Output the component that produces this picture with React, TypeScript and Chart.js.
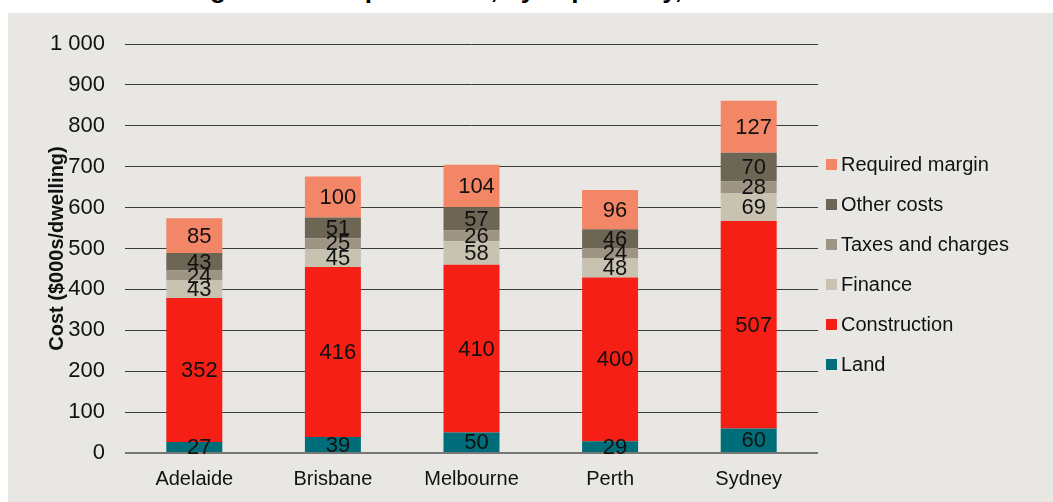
import React, { useEffect, useRef } from 'react';
import { Chart, registerables } from 'chart.js';

Chart.register(...registerables);

const titleText = 'Building costs for apartments, by capital city, 2016';
const yAxisTitle = 'Cost ($000s/dwelling)';
const categories = ['Adelaide', 'Brisbane', 'Melbourne', 'Perth', 'Sydney'];

const land = [27, 39, 50, 29, 60];
const construction = [352, 416, 410, 400, 507];
const finance = [43, 45, 58, 48, 69];
const taxesAndCharges = [24, 25, 26, 24, 28];
const otherCosts = [43, 51, 57, 46, 70];
const requiredMargin = [85, 100, 104, 96, 127];

const seriesNames = ['Land', 'Construction', 'Finance', 'Taxes and charges', 'Other costs', 'Required margin'];
const seriesValues = [land, construction, finance, taxesAndCharges, otherCosts, requiredMargin];
const seriesColors = ['#006e7a', '#f51f15', '#c8c2b0', '#9e9484', '#6e6654', '#f48668'];

const yMin = 0;
const yMax = 1000;
const yStep = 100;

const SANS = '"Liberation Sans", Arial, sans-serif';

const formatThousands = (v: number) => String(v).replace(/\B(?=(\d{3})+(?!\d))/g, ' ');

const valueLabels = {
  id: 'valueLabels',
  afterDatasetsDraw(chart: any) {
    const ctx = chart.ctx;
    ctx.save();
    ctx.font = `22px ${SANS}`;
    ctx.fillStyle = '#111111';
    ctx.textAlign = 'center';
    ctx.textBaseline = 'middle';
    chart.data.datasets.forEach((ds: any, i: number) => {
      const meta = chart.getDatasetMeta(i);
      meta.data.forEach((el: any, j: number) => {
        const { x, y, base } = el.getProps(['x', 'y', 'base'], true);
        ctx.fillText(String(ds.data[j]), x + 5, (y + base) / 2 + 1);
      });
    });
    ctx.restore();
  },
};

export default function App() {
  const canvasRef = useRef<HTMLCanvasElement | null>(null);

  useEffect(() => {
    if (!canvasRef.current) return;
    const chart = new Chart(canvasRef.current, {
      type: 'bar',
      data: {
        labels: categories,
        datasets: seriesNames.map((name, i) => ({
          label: name,
          data: seriesValues[i],
          backgroundColor: seriesColors[i],
          borderWidth: 0,
          categoryPercentage: 1,
          barPercentage: 0.404,
        })),
      },
      options: {
        responsive: false,
        animation: false,
        devicePixelRatio: 1,
        layout: { padding: { left: 0, right: 235, top: 31, bottom: 0 } },
        plugins: {
          legend: { display: false },
          tooltip: { enabled: false },
          title: { display: false },
        },
        scales: {
          x: {
            stacked: true,
            grid: { display: false, drawTicks: false },
            border: { display: false },
            ticks: {
              color: '#111111',
              padding: 14,
              font: { family: SANS, size: 20 },
            },
            afterFit: (scale: any) => {
              scale.height = 49;
            },
          },
          y: {
            stacked: true,
            min: yMin,
            max: yMax,
            border: { display: false },
            grid: {
              drawTicks: false,
              color: (c: any) => (c.tick && c.tick.value === 0 ? '#777777' : '#3a3a3a'),
              lineWidth: (c: any) => (c.tick && c.tick.value === 0 ? 2 : 1),
            },
            ticks: {
              stepSize: yStep,
              color: '#111111',
              padding: 20,
              font: { family: SANS, size: 22 },
              callback: (v: any) => formatThousands(Number(v)),
            },
            title: {
              display: true,
              text: yAxisTitle,
              color: '#111111',
              font: { family: SANS, size: 20, weight: 'bold' },
              padding: { top: 37, bottom: 0 },
            },
            afterFit: (scale: any) => {
              scale.width = 117;
              scale.paddingTop = 0;
              scale.paddingBottom = 0;
            },
          },
        },
      },
      plugins: [valueLabels],
    });
    return () => chart.destroy();
  }, []);

  const legendOrder = [...seriesNames.keys()].reverse();

  return (
    <div style={{ position: 'fixed', left: 0, top: 0, width: 1053, height: 502, overflow: 'hidden', background: '#ffffff' }}>
      <div
        style={{
          position: 'absolute',
          left: 122,
          top: -26,
          whiteSpace: 'nowrap',
          font: `bold 26px ${SANS}`,
          lineHeight: '30px',
          color: '#000000',
        }}
      >
        {titleText}
      </div>
      <div style={{ position: 'absolute', left: 8, top: 13, width: 1045, height: 489, background: '#e8e7e3' }}>
        <canvas ref={canvasRef} width={1045} height={489} style={{ display: 'block', width: 1045, height: 489 }} />
        <div style={{ position: 'absolute', left: 818, top: 131 }}>
          {legendOrder.map((i) => (
            <div key={seriesNames[i]} style={{ display: 'flex', alignItems: 'center', height: 40 }}>
              <span style={{ display: 'inline-block', width: 11, height: 11, background: seriesColors[i], marginRight: 4 }} />
              <span style={{ font: `20px ${SANS}`, color: '#111111', whiteSpace: 'nowrap' }}>{seriesNames[i]}</span>
            </div>
          ))}
        </div>
      </div>
    </div>
  );
}
